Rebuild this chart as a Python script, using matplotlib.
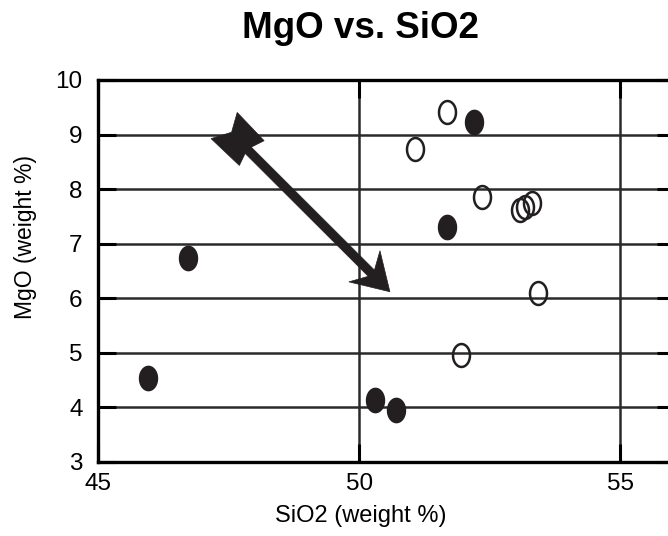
import matplotlib
matplotlib.use('Agg')
import matplotlib.pyplot as plt
import numpy as np
from matplotlib.path import Path
from matplotlib.patches import Polygon

plt.rcParams['font.family'] = ['Liberation Sans', 'DejaVu Sans']

# Data (weight %)
filled_sio2 = [45.96, 46.72, 50.31, 50.71, 51.69, 52.20]
filled_mgo = [4.54, 6.74, 4.14, 3.96, 7.31, 9.23]
open_sio2 = [51.69, 51.07, 52.35, 53.08, 53.18, 53.31, 53.42, 51.95]
open_mgo = [9.41, 8.73, 7.85, 7.62, 7.68, 7.74, 6.09, 4.96]

x_ticks = [45, 50, 55]
y_ticks = [3, 4, 5, 6, 7, 8, 9, 10]

# arrow (tail = fletching centre, head = tip), in data units
arrow_tail = (47.68, 8.90)
arrow_tip = (50.59, 6.12)

ink = '#231f20'

fig = plt.figure(figsize=(6.68, 5.36), dpi=100)
ax = fig.add_axes([98 / 668, 74 / 536, 577 / 668, 382 / 536])
ax.set_xlim(45, 56.05)
ax.set_ylim(3, 10)
ax.set_xticks(x_ticks)
ax.set_yticks(y_ticks)
ax.tick_params(direction='in', length=13, width=2.2, top=True, right=True,
               labelsize=17.5, colors='black')
ax.tick_params(axis='x', pad=8)
ax.tick_params(axis='y', pad=11)
ax.grid(color='#2a2a2a', lw=1.8)
ax.set_axisbelow(True)
for s in ax.spines.values():
    s.set_linewidth(2.4)
    s.set_color('black')

# elliptical marker
t = np.linspace(0, 2 * np.pi, 80)
ell = Path(np.column_stack([0.74 * np.cos(t), np.sin(t)]), closed=True)

ax.plot(filled_sio2, filled_mgo, ls='none', marker=ell, ms=17.5,
        mfc=ink, mec=ink, mew=1.0, zorder=4)
ax.plot(open_sio2, open_mgo, ls='none', marker=ell, ms=16.5,
        mfc='none', mec=ink, mew=1.8, zorder=4)

# arrow drawn as polygons in pixel space
p0 = ax.transData.transform(arrow_tail)
p1 = ax.transData.transform(arrow_tip)
d = (p1 - p0) / np.linalg.norm(p1 - p0)
perp = np.array([-d[1], d[0]])
L = np.linalg.norm(p1 - p0)


def to_data(pts, origin):
    pix = np.array([origin + u * d + v * perp for u, v in pts])
    return ax.transData.inverted().transform(pix)


shaft = [(0, 4.4), (L - 26, 4.4), (L - 26, -4.4), (0, -4.4)]
head = [(0, 0), (-36, 22), (-26, 4), (-28, 0), (-26, -4), (-36, -22)]
fletch = [(-20, 19), (-10, 1), (-20, -18), (19, -17), (13, 0), (19, 18)]

for pts, org in [(shaft, p0), (head, p1), (fletch, p0)]:
    ax.add_patch(Polygon(to_data(pts, org), closed=True, fc=ink, ec=ink,
                         lw=0.5, zorder=5))

fig.text(360 / 668, 1 - 38 / 536, 'MgO vs. SiO2', ha='center', va='baseline',
         fontsize=26.5, fontweight='bold')
ax.set_xlabel('SiO2 (weight %)', fontsize=17)
ax.xaxis.set_label_coords(0.456, -0.112)
ax.set_ylabel('MgO (weight %)', fontsize=16.5)
ax.yaxis.set_label_coords(-0.106, 0.59)

fig.savefig('out.png', dpi=100)
